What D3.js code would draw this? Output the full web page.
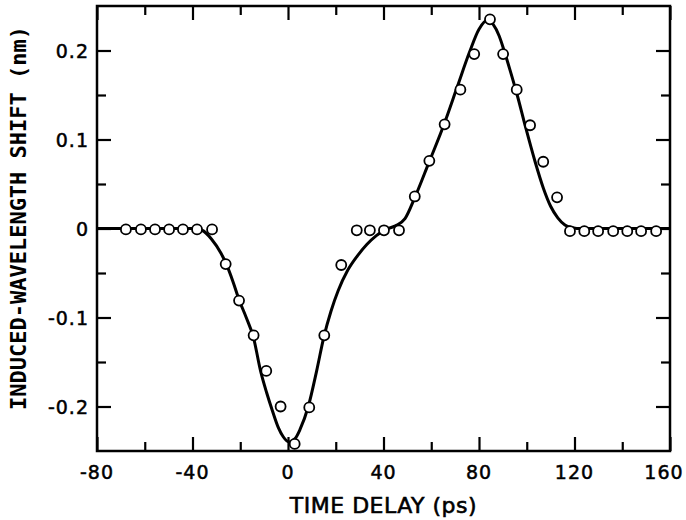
<!DOCTYPE html>
<html>

<head>
    <title>Induced wavelength shift</title>
</head>

<body>
    <style>
        html,
        body {
            background-color: white;
            margin: 0;
            padding: 0;
        }

        .tick-label {
            font-family: 'DejaVu Sans', sans-serif;
            font-size: 19px;
            letter-spacing: 1px;
            fill: black;
            stroke: black;
            stroke-width: 0.5;
        }

        .axis-title {
            font-family: 'DejaVu Sans', sans-serif;
            font-size: 22px;
            letter-spacing: 0.5px;
            fill: black;
            stroke: black;
            stroke-width: 0.6;
        }

        .y-title {
            font-family: 'DejaVu Sans Mono', monospace;
            font-weight: bold;
            font-size: 22px;
            fill: black;
        }
    </style>
    <div id="chart"></div>

    <script src="https://cdnjs.cloudflare.com/ajax/libs/d3/7.6.1/d3.min.js"></script>
    <script>
        // measured points (ps, nm)
        const pointTimes = [-67.9, -61.6, -55.7, -49.8, -44, -38.1, -31.8, -26.1, -20.5, -14.4, -9.1, -3.1,
            2.8, 8.9, 15.2, 22.3, 28.8, 34.3, 40.2, 46.5, 53.1, 59.2, 65.6, 72.2, 78.0, 84.6, 90.1, 95.8,
            101.4, 106.9, 112.7, 118.1, 124.1, 129.9, 136.2, 142.1, 147.9, 154.2];
        const pointShifts = [-0.001, -0.001, -0.001, -0.001, -0.001, -0.001, -0.001, -0.040, -0.081, -0.120, -0.160, -0.200,
            -0.242, -0.201, -0.120, -0.041, -0.002, -0.002, -0.002, -0.002, 0.036, 0.076, 0.117, 0.156, 0.196, 0.235, 0.196, 0.156,
            0.116, 0.075, 0.035, -0.003, -0.003, -0.003, -0.003, -0.003, -0.003, -0.003];

        // fitted curve
        const curveTimes = [-80, -40, -36, -32, -28, -26, -23, -20.5, -17.5, -14.5, -11.5, -9, -6.5, -4, -2, 0.5, 3, 5, 8.5,
            12, 15, 18, 21, 25, 29, 33, 37, 41, 45, 49, 53, 59, 65.5, 71, 76, 80, 83.5, 86, 88.5, 90.5, 93, 96, 99.3,
            103.5, 107, 110, 113, 116, 119, 121, 160];
        const curveShifts = [0, 0, -0.002, -0.012, -0.028, -0.039, -0.060, -0.080, -0.100, -0.122, -0.160, -0.184, -0.205,
            -0.224, -0.234, -0.240, -0.236, -0.226, -0.200, -0.160, -0.122, -0.093, -0.070, -0.047, -0.031, -0.018, -0.008,
            -0.001, 0.003, 0.011, 0.034, 0.074, 0.118, 0.160, 0.198, 0.224, 0.234, 0.229, 0.216, 0.200, 0.178, 0.150, 0.116,
            0.075, 0.045, 0.025, 0.012, 0.004, 0.001, 0, 0];

        const xMajor = [-80, -40, 0, 40, 80, 120, 160];
        const xMinor = [-60, -20, 20, 60, 100, 140];
        const yMajor = [-0.2, -0.1, 0, 0.1, 0.2];
        const yMinor = [-0.15, -0.05, 0.05, 0.15];
        const yLabels = ["-0.2", "-0.1", "0", "0.1", "0.2"];

        const width = 686, height = 520;
        const plotLeft = 97, plotRight = 670, plotTop = 6, plotBottom = 451;

        const svg = d3.select("#chart")
            .append("svg")
            .attr("width", width)
            .attr("height", height);

        const xScale = d3.scaleLinear().domain([-80, 160]).range([plotLeft, plotRight]);
        const yScale = d3.scaleLinear().domain([-0.25, 0.25]).range([plotBottom, plotTop]);

        // inward ticks on all four sides
        const axes = [
            { axis: d3.axisBottom(xScale), pos: "translate(0," + plotBottom + ")", vals: xMajor, size: -14 },
            { axis: d3.axisBottom(xScale), pos: "translate(0," + plotBottom + ")", vals: xMinor, size: -9 },
            { axis: d3.axisTop(xScale), pos: "translate(0," + plotTop + ")", vals: xMajor, size: -14 },
            { axis: d3.axisTop(xScale), pos: "translate(0," + plotTop + ")", vals: xMinor, size: -9 },
            { axis: d3.axisLeft(yScale), pos: "translate(" + plotLeft + ",0)", vals: yMajor, size: -14 },
            { axis: d3.axisLeft(yScale), pos: "translate(" + plotLeft + ",0)", vals: yMinor, size: -9 },
            { axis: d3.axisRight(yScale), pos: "translate(" + plotRight + ",0)", vals: yMajor, size: -14 },
            { axis: d3.axisRight(yScale), pos: "translate(" + plotRight + ",0)", vals: yMinor, size: -9 }
        ];

        axes.forEach(a => {
            const g = svg.append("g")
                .attr("transform", a.pos)
                .call(a.axis.tickValues(a.vals).tickSize(a.size).tickFormat(""));
            g.select(".domain").remove();
            g.selectAll(".tick line").attr("stroke", "black").attr("stroke-width", 2.2);
        });

        svg.append("rect")
            .attr("x", plotLeft)
            .attr("y", plotTop)
            .attr("width", plotRight - plotLeft)
            .attr("height", plotBottom - plotTop)
            .attr("fill", "none")
            .attr("stroke", "black")
            .attr("stroke-width", 2.5);

        // last label is pulled in a little so it stays inside the page
        svg.selectAll(".x-label")
            .data(xMajor)
            .enter()
            .append("text")
            .attr("class", "tick-label")
            .attr("x", d => Math.min(xScale(d), width - 22))
            .attr("y", plotBottom + 28)
            .attr("text-anchor", "middle")
            .text(d => d);

        svg.selectAll(".y-label")
            .data(yMajor)
            .enter()
            .append("text")
            .attr("class", "tick-label")
            .attr("x", plotLeft - 8)
            .attr("y", d => yScale(d) + 7)
            .attr("text-anchor", "end")
            .text((d, i) => yLabels[i]);

        svg.append("text")
            .attr("class", "axis-title")
            .attr("x", (plotLeft + plotRight) / 2)
            .attr("y", 513)
            .attr("text-anchor", "middle")
            .text("TIME DELAY (ps)");

        svg.append("text")
            .attr("class", "y-title")
            .attr("transform", "translate(26,218) rotate(-90)")
            .attr("text-anchor", "middle")
            .text("INDUCED-WAVELENGTH SHIFT (nm)");

        const line = d3.line()
            .x((d, i) => xScale(curveTimes[i]))
            .y(d => yScale(d))
            .curve(d3.curveMonotoneX);

        svg.append("path")
            .datum(curveShifts)
            .attr("d", line)
            .attr("fill", "none")
            .attr("stroke", "black")
            .attr("stroke-width", 3);

        svg.selectAll(".pt")
            .data(pointShifts)
            .enter()
            .append("circle")
            .attr("cx", (d, i) => xScale(pointTimes[i]))
            .attr("cy", d => yScale(d))
            .attr("r", 5)
            .attr("fill", "white")
            .attr("stroke", "black")
            .attr("stroke-width", 1.8);
    </script>
</body>

</html>
